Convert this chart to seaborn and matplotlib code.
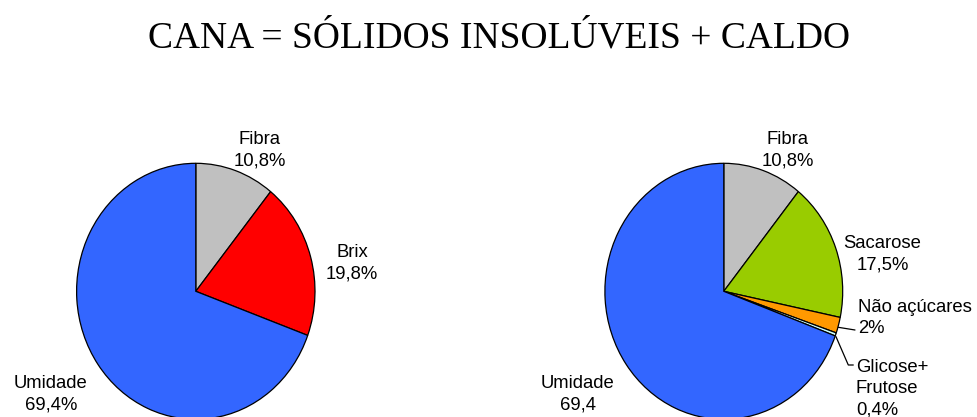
import matplotlib
matplotlib.use("Agg")
import matplotlib.pyplot as plt
import seaborn as sns

sns.set_style("white")
plt.rcParams['font.family'] = ['Liberation Sans', 'DejaVu Sans']

# ---- data ----
title_text = "CANA = SÓLIDOS INSOLÚVEIS + CALDO"

left_categories = ["Fibra", "Brix", "Umidade"]
left_values = [10.8, 19.8, 69.4]
left_labels = ["Fibra\n10,8%", "Brix\n19,8%", "Umidade\n69,4%"]
left_colors = ["#C0C0C0", "#FF0000", "#3366FF"]

right_categories = ["Fibra", "Sacarose", "Não açúcares", "Glicose+Frutose", "Umidade"]
right_values = [10.8, 17.5, 2.0, 0.4, 69.4]
right_labels = ["Fibra\n10,8%", "Sacarose\n17,5%", "Não açúcares\n2%",
                "Glicose+\nFrutose\n0,4%", "Umidade\n69,4"]
right_colors = ["#C0C0C0", "#99CC00", "#FF9900", "#CCFFFF", "#3366FF"]

# ---- layout (pixels) ----
W, H = 978, 417
fig = plt.figure(figsize=(W / 100, H / 100), dpi=100)
fig.patch.set_facecolor("white")

LIM = 1.3


def make_ax(cx, cy_top, rx, ry):
    w = 2 * LIM * rx
    h = 2 * LIM * ry
    cy = H - cy_top
    ax = fig.add_axes([(cx - w / 2) / W, (cy - h / 2) / H, w / W, h / H])
    return ax


def draw_pie(ax, values, colors):
    ax.pie(values, colors=colors, startangle=90, counterclock=False, radius=1.0,
           wedgeprops=dict(edgecolor="black", linewidth=0.9))
    ax.set_aspect("auto")
    ax.set_xlim(-LIM, LIM)
    ax.set_ylim(-LIM, LIM)
    ax.axis("off")


def px_text(x, y_top, s, ha="center", size=13.3):
    # place multi-line label with explicit baselines, 21.5 px apart
    for i, line in enumerate(s.split("\n")):
        fig.text(x / W, (H - (y_top + 21.5 * i)) / H, line, ha=ha, va="baseline",
                 fontsize=size, color="black")


def px_line(xs, ys_top):
    fig.add_artist(plt.Line2D([x / W for x in xs], [(H - y) / H for y in ys_top],
                              color="black", linewidth=0.9, transform=fig.transFigure))


axL = make_ax(195.8, 291.3, 119.2, 128)
draw_pie(axL, left_values, left_colors)
axR = make_ax(723.8, 291.3, 118.9, 128)
draw_pie(axR, right_values, right_colors)

# title
fig.text(499 / W, (H - 47.5) / H, title_text, ha="center", va="baseline",
         fontsize=27, family=["Liberation Serif", "DejaVu Serif"], color="black")

# left labels
left_pos = [(259.5, 144, "center"), (352, 257, "center"), (51, 388, "center")]
for lab, (x, y, ha) in zip(left_labels, left_pos):
    px_text(x, y, lab, ha=ha)

# right labels
right_pos = [(787.5, 144, "center"), (882.5, 248, "center"), (858.5, 311.7, "left"),
             (856, 371.7, "left"), (578, 388, "center")]
for lab, (x, y, ha) in zip(right_labels, right_pos):
    px_text(x, y, lab, ha=ha)

# leader lines
px_line([838.3, 855], [327.3, 330])
px_line([836, 848.3, 853.3], [336.7, 365, 365])

fig.savefig("out.png", dpi=100, facecolor="white")
